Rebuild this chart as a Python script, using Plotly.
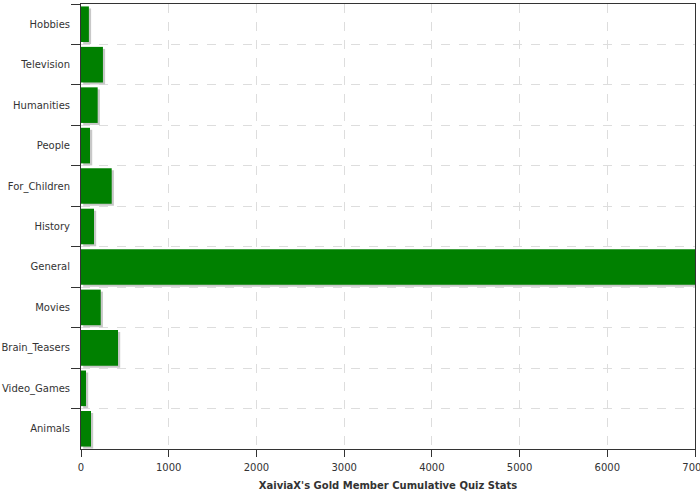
import plotly.graph_objects as go

categories = ["Hobbies", "Television", "Humanities", "People", "For_Children",
              "History", "General", "Movies", "Brain_Teasers", "Video_Games", "Animals"]
values = [90, 250, 190, 103, 350, 148, 7000, 225, 422, 57, 114]
x_ticks = [0, 1000, 2000, 3000, 4000, 5000, 6000, 7000]

shadow_shift = 25
fig = go.Figure()
fig.add_trace(go.Bar(
    y=categories, x=[v for v in values], base=shadow_shift, orientation="h",
    marker=dict(color="#c8c8c8", line=dict(width=0)),
    width=0.88, offset=-0.44 + 0.05, hoverinfo="skip", showlegend=False))
fig.add_trace(go.Bar(
    y=categories, x=values, orientation="h",
    marker=dict(color="#008000", line=dict(width=0)),
    width=0.88, offset=-0.44, showlegend=False))

fig.update_layout(
    width=700, height=500, barmode="overlay",
    margin=dict(l=81, r=5, t=4, b=51, autoexpand=False),
    paper_bgcolor="white", plot_bgcolor="white",
    font=dict(family="DejaVu Sans", size=10, color="#333333"),
    xaxis=dict(range=[0, 7000], tickvals=x_ticks, ticks="outside", ticklen=7,
               tickcolor="#333333", showline=True, linecolor="#333333", linewidth=1,
               mirror=True, showgrid=True, gridcolor="#dddddd", griddash="dash",
               zeroline=False, automargin=False, ticklabeloverflow="allow",
               ticklabelstandoff=2,
               title=dict(text="<b>XaiviaX's Gold Member Cumulative Quiz Stats</b>",
                          font=dict(size=10, color="#333333"), standoff=9)),
    yaxis=dict(type="category", autorange="reversed", tickson="boundaries",
               ticks="outside", ticklen=9, tickcolor="#333333", automargin=False,
               ticklabelstandoff=8,
               showline=True, linecolor="#333333", linewidth=1, mirror=True,
               showgrid=True, gridcolor="#dddddd", griddash="dash", zeroline=False),
)
fig.write_html("out.html", config={"displayModeBar": False},
               post_script="document.body.style.margin='0';document.body.style.overflow='hidden';")
